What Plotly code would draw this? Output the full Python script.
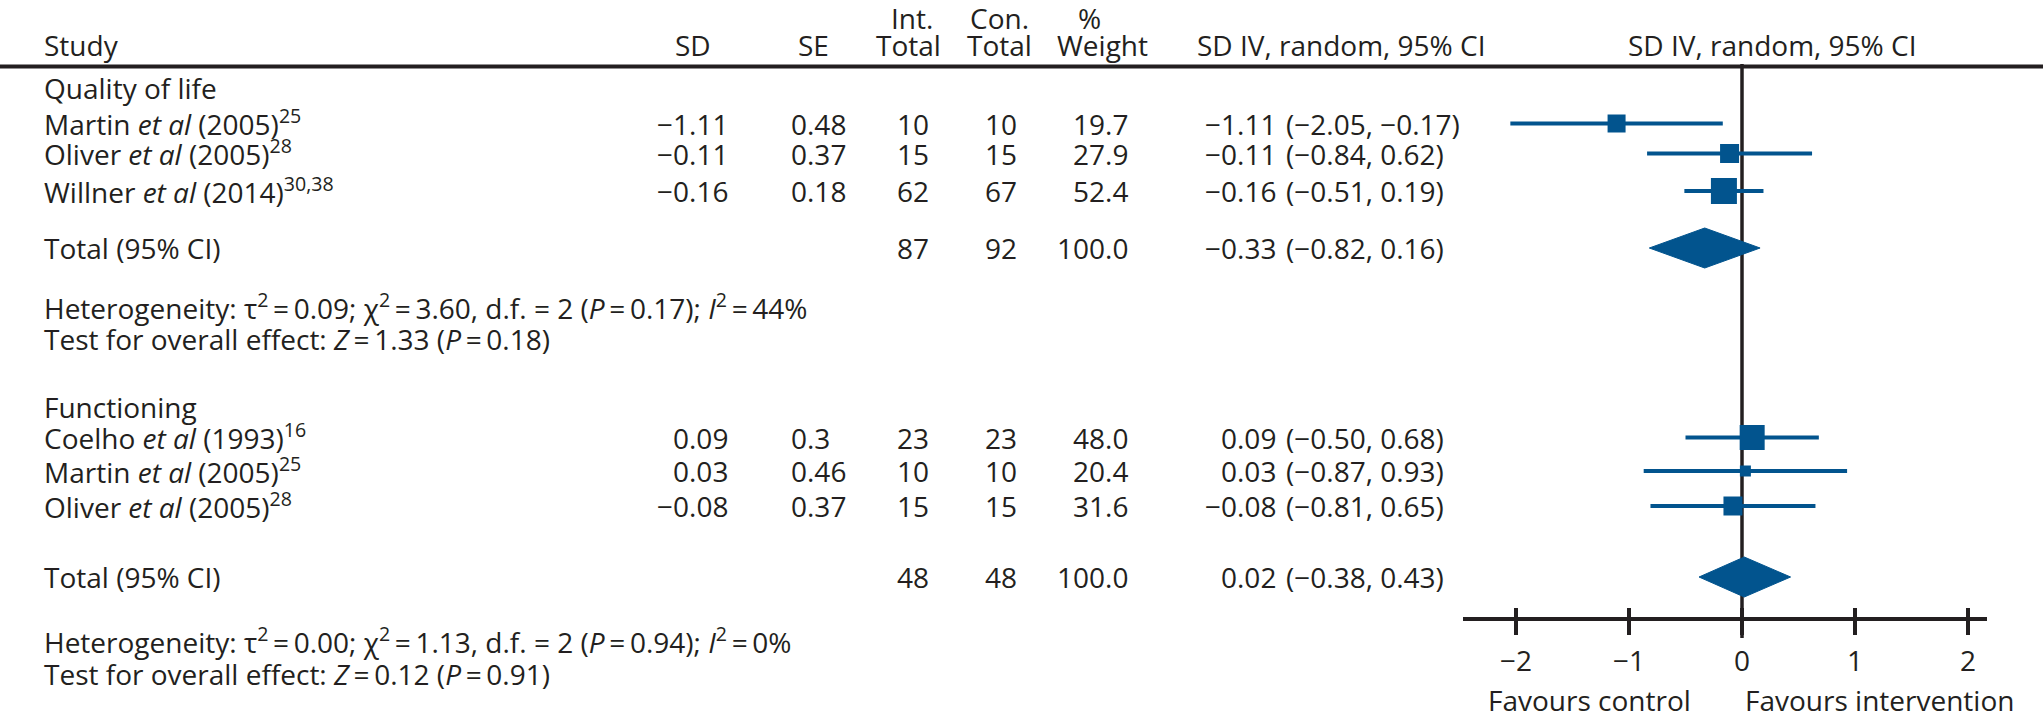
import plotly.graph_objects as go

# ---------------- data ----------------
qol_names = ["Martin <i>et al</i> (2005)<sup>25</sup>",
             "Oliver <i>et al</i> (2005)<sup>28</sup>",
             "Willner <i>et al</i> (2014)<sup>30,38</sup>"]
qol_sd = [-1.11, -0.11, -0.16]
qol_se = ["0.48", "0.37", "0.18"]
qol_int = [10, 15, 62]
qol_con = [10, 15, 67]
qol_weight = [19.7, 27.9, 52.4]
qol_lo = [-2.05, -0.84, -0.51]
qol_hi = [-0.17, 0.62, 0.19]
qol_total = {"int": 87, "con": 92, "weight": 100.0, "est": -0.33, "lo": -0.82, "hi": 0.16}
qol_het = ("Heterogeneity: τ<sup>2</sup>\u2009=\u20090.09; χ<sup>2</sup>\u2009=\u20093.60, d.f. = 2 "
           "(<i>P</i>\u2009=\u20090.17); <i>I</i><sup>2</sup>\u2009=\u200944%")
qol_test = "Test for overall effect: <i>Z</i>\u2009=\u20091.33 (<i>P</i>\u2009=\u20090.18)"

fun_names = ["Coelho <i>et al</i> (1993)<sup>16</sup>",
             "Martin <i>et al</i> (2005)<sup>25</sup>",
             "Oliver <i>et al</i> (2005)<sup>28</sup>"]
fun_sd = [0.09, 0.03, -0.08]
fun_se = ["0.3", "0.46", "0.37"]
fun_int = [23, 10, 15]
fun_con = [23, 10, 15]
fun_weight = [48.0, 20.4, 31.6]
fun_lo = [-0.50, -0.87, -0.81]
fun_hi = [0.68, 0.93, 0.65]
fun_total = {"int": 48, "con": 48, "weight": 100.0, "est": 0.02, "lo": -0.38, "hi": 0.43}
fun_het = ("Heterogeneity: τ<sup>2</sup>\u2009=\u20090.00; χ<sup>2</sup>\u2009=\u20091.13, d.f. = 2 "
           "(<i>P</i>\u2009=\u20090.94); <i>I</i><sup>2</sup>\u2009=\u20090%")
fun_test = "Test for overall effect: <i>Z</i>\u2009=\u20090.12 (<i>P</i>\u2009=\u20090.91)"

tick_vals = [-2, -1, 0, 1, 2]
tick_text = ["\u22122", "\u22121", "0", "1", "2"]

# ---------------- style / layout ----------------
W, H = 2043, 712
FONT = "Open Sans"
FS = 28
TXT = "#231f20"
BLUE = "#02548e"

X0_PX, UNIT_PX = 1742, 113.0
AX_L, AX_R, AX_Y = 1463, 1987, 619

# row vertical positions (pixels from top)
qol_label_y = 88
qol_rows_y = [123.5, 153.5, 191]
qol_total_y = 248
qol_het_y, qol_test_y = 307, 339
fun_label_y = 407
fun_rows_y = [437.5, 471, 506]
fun_total_y = 577
fun_het_y, fun_test_y = 641, 674
HDR1_Y, HDR2_Y, RULE_Y = 18, 45, 66.5
SUP_SHIFT = 1  # superscripts enlarge the text box upward

qol_sizes = [18, 19, 26]
fun_sizes = [25, 11, 19]
DIAMOND_HALF = 20

def mfmt(v, nd=2):
    return f"{v:.{nd}f}".replace("-", "\u2212")

annotations = []
def ann(text, xpx, ypx, anchor="left", size=FS):
    if "<sup>" in text:
        ypx -= SUP_SHIFT
    annotations.append(dict(text=text, x=xpx / W, y=ypx, xref="paper", yref="y",
                            xanchor=anchor, yanchor="middle", showarrow=False,
                            font=dict(family=FONT, size=size, color=TXT)))

# header
ann("Int.", 912, HDR1_Y, "center")
ann("Con.", 999, HDR1_Y, "center")
ann("%", 1089, HDR1_Y, "center")
ann("Study", 42, HDR2_Y, "left")
ann("SD", 693, HDR2_Y, "center")
ann("SE", 813, HDR2_Y, "center")
ann("Total", 908, HDR2_Y, "center")
ann("Total", 999, HDR2_Y, "center")
ann("Weight", 1102, HDR2_Y, "center")
ann("SD IV, random, 95% CI", 1195, HDR2_Y, "left")
ann("SD IV, random, 95% CI", 1772, HDR2_Y, "center")

def table_block(label, label_y, names, sd, se, n_int, n_con, wt, lo, hi, rows_y,
                total, total_y, het, het_y, test, test_y):
    ann(label, 42, label_y, "left")
    for i, y in enumerate(rows_y):
        ann(names[i], 42, y, "left")
        ann(mfmt(sd[i]), 730, y, "right")
        ann(se[i], 789, y, "left")
        ann(str(n_int[i]), 931, y, "right")
        ann(str(n_con[i]), 1019, y, "right")
        ann(f"{wt[i]:.1f}", 1130, y, "right")
        ann(mfmt(sd[i]), 1278, y, "right")
        ann(f"({mfmt(lo[i])}, {mfmt(hi[i])})", 1284, y, "left")
    ann("Total (95% CI)", 42, total_y, "left")
    ann(str(total["int"]), 931, total_y, "right")
    ann(str(total["con"]), 1019, total_y, "right")
    ann(f"{total['weight']:.1f}", 1130, total_y, "right")
    ann(mfmt(total["est"]), 1278, total_y, "right")
    ann(f"({mfmt(total['lo'])}, {mfmt(total['hi'])})", 1284, total_y, "left")
    ann(het, 42, het_y, "left")
    ann(test, 42, test_y, "left")

table_block("Quality of life", qol_label_y, qol_names, qol_sd, qol_se, qol_int, qol_con,
            qol_weight, qol_lo, qol_hi, qol_rows_y, qol_total, qol_total_y,
            qol_het, qol_het_y, qol_test, qol_test_y)
table_block("Functioning", fun_label_y, fun_names, fun_sd, fun_se, fun_int, fun_con,
            fun_weight, fun_lo, fun_hi, fun_rows_y, fun_total, fun_total_y,
            fun_het, fun_het_y, fun_test, fun_test_y)

# favours labels
ann("Favours control", 1486, 700, "left")
ann("Favours intervention", 1743, 700, "left")

fig = go.Figure()

# zero line
fig.add_trace(go.Scatter(x=[0, 0], y=[64, 638], mode="lines",
                         line=dict(color=TXT, width=3.5), hoverinfo="skip", showlegend=False))

# CI lines
ci_x, ci_y = [], []
for lo, hi, y in list(zip(qol_lo, qol_hi, qol_rows_y)) + list(zip(fun_lo, fun_hi, fun_rows_y)):
    ci_x += [lo, hi, None]
    ci_y += [y, y, None]
fig.add_trace(go.Scatter(x=ci_x, y=ci_y, mode="lines", line=dict(color=BLUE, width=4),
                         hoverinfo="skip", showlegend=False))

# squares
fig.add_trace(go.Scatter(x=qol_sd + fun_sd, y=qol_rows_y + fun_rows_y, mode="markers",
                         marker=dict(symbol="square", size=qol_sizes + fun_sizes, color=BLUE,
                                     opacity=1, line=dict(width=0)),
                         hoverinfo="skip", showlegend=False))

# diamonds
for tot, y in [(qol_total, qol_total_y), (fun_total, fun_total_y)]:
    fig.add_trace(go.Scatter(x=[tot["lo"], tot["est"], tot["hi"], tot["est"], tot["lo"]],
                             y=[y, y - DIAMOND_HALF, y, y + DIAMOND_HALF, y],
                             mode="lines", fill="toself", fillcolor=BLUE,
                             line=dict(color=BLUE, width=1), hoverinfo="skip", showlegend=False))

# dummy trace for upper tick axis
fig.add_trace(go.Scatter(x=[0], y=[AX_Y], xaxis="x2", mode="markers",
                         marker=dict(opacity=0), hoverinfo="skip", showlegend=False))

xr = [(AX_L - X0_PX) / UNIT_PX, (AX_R - X0_PX) / UNIT_PX]
pos = (H - AX_Y) / H
axis_common = dict(domain=[AX_L / W, AX_R / W], range=xr, anchor="free", position=pos,
                   showgrid=False, zeroline=False, tickvals=tick_vals,
                   tickcolor=TXT, tickwidth=3.5, fixedrange=True)

shapes = [dict(type="line", xref="paper", yref="y", x0=0, x1=1, y0=RULE_Y, y1=RULE_Y,
               line=dict(color=TXT, width=4))]

fig.update_layout(
    width=W, height=H, margin=dict(l=0, r=0, t=0, b=0),
    paper_bgcolor="white", plot_bgcolor="rgba(0,0,0,0)",
    font=dict(family=FONT, size=FS, color=TXT),
    xaxis=dict(**axis_common, showline=True, linecolor=TXT, linewidth=3.5,
               ticks="outside", ticklen=14, ticktext=tick_text, ticklabelstandoff=3,
               tickfont=dict(family=FONT, size=FS, color=TXT)),
    xaxis2=dict(**axis_common, overlaying="x", showline=False, ticks="inside", ticklen=11,
                showticklabels=False),
    yaxis=dict(domain=[0, 1], range=[H, 0], visible=False, fixedrange=True),
    annotations=annotations, shapes=shapes, showlegend=False,
)

fig.write_html("out.html", config={"displayModeBar": False},
               post_script="document.body.style.margin='0';document.body.style.overflow='hidden';")
